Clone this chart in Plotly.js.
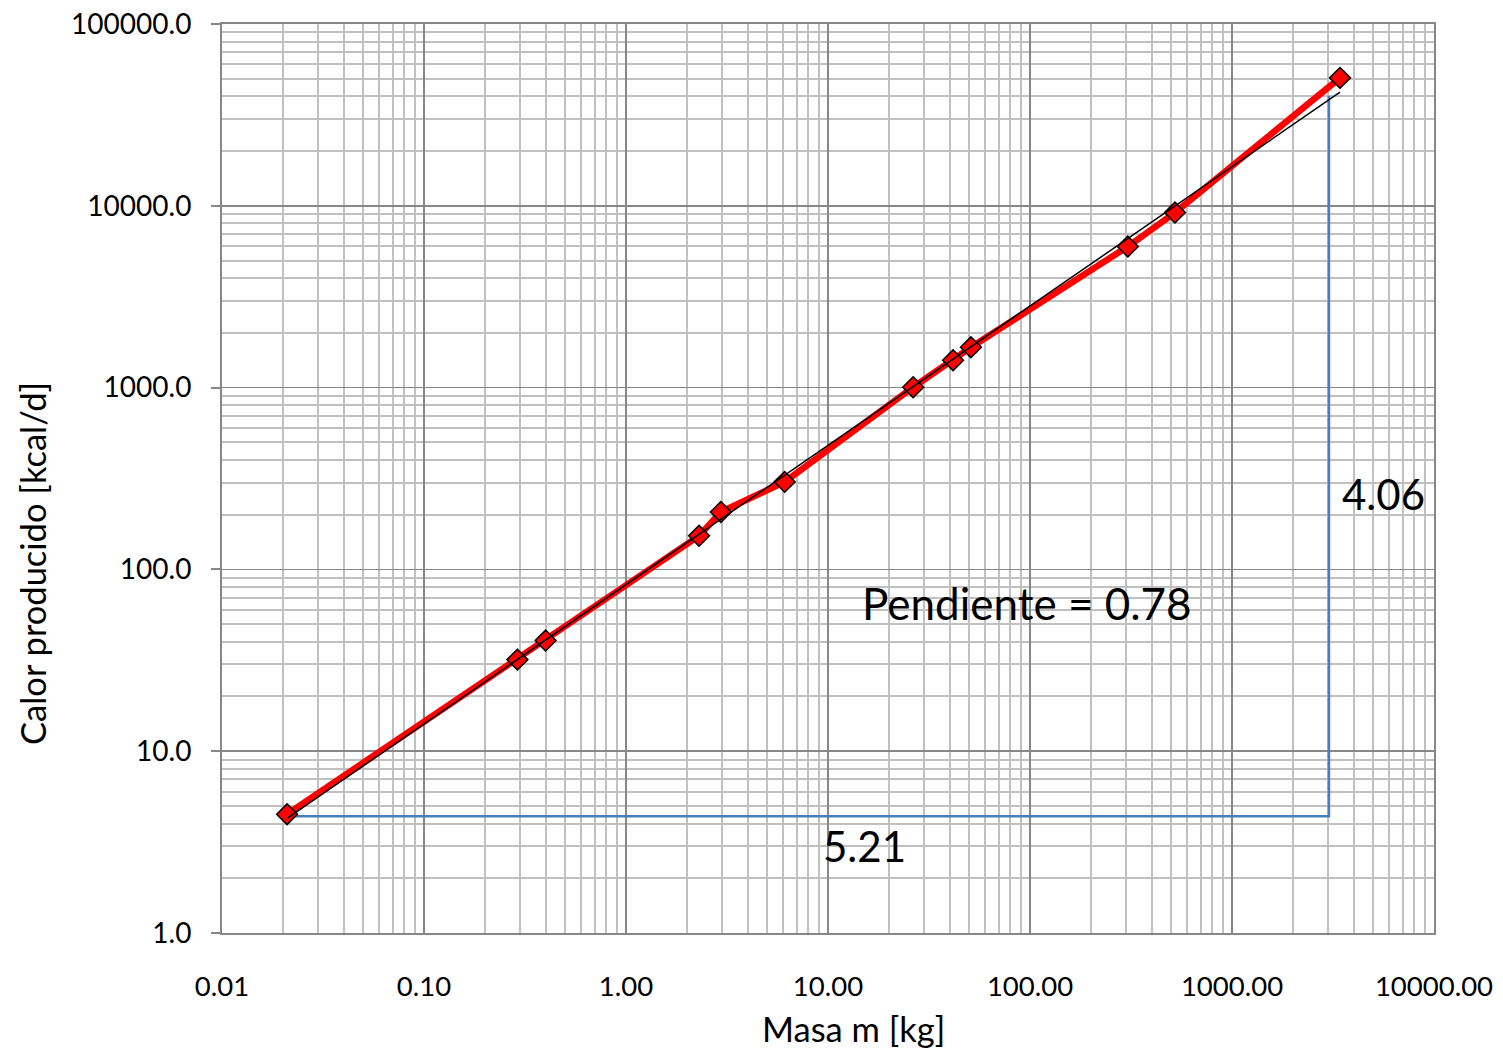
<!DOCTYPE html>
<html>
<head>
<meta charset="utf-8">
<script src="https://cdn.plot.ly/plotly-3.0.1.min.js"></script>
<style>html,body{margin:0;padding:0;background:#fff;}#chart{width:1503px;height:1051px;}</style>
</head>
<body>
<div id="chart"></div>
<script>
// Data
var masa = [0.021, 0.29, 0.40, 2.3, 2.95, 6.1, 26.4, 41.6, 51, 305, 522, 3425];
var calor = [4.5, 31.9, 40.6, 153, 207, 303, 1005, 1414, 1667, 5970, 9180, 50550];

// Slope construction (blue lines)
var slopeX = [0.021, 3020, 3020];
var slopeY = [4.39, 4.39, 40270];

// Tick labels
var xTickVals = [0.01, 0.1, 1, 10, 100, 1000, 10000];
var xTickText = ["0.01", "0.10", "1.00", "10.00", "100.00", "1000.00", "10000.00"];
var yTickVals = [1, 10, 100, 1000, 10000, 100000];
var yTickText = ["1.0", "10.0", "100.0", "1000.0", "10000.0", "100000.0"];

// Annotation texts
var labelSlope = "Pendiente = 0.78";
var labelRise = "4.06";
var labelRun = "5.21";

// Power-law least-squares fit in log space (trendline)
var lx = masa.map(function(v){return Math.log10(v);});
var ly = calor.map(function(v){return Math.log10(v);});
var n = lx.length, mx = 0, my = 0;
for (var i = 0; i < n; i++) { mx += lx[i]; my += ly[i]; }
mx /= n; my /= n;
var sxy = 0, sxx = 0;
for (var i = 0; i < n; i++) { sxy += (lx[i]-mx)*(ly[i]-my); sxx += (lx[i]-mx)*(lx[i]-mx); }
var b = sxy / sxx, a = my - b*mx;
var trendX = [masa[0], masa[n-1]];
var trendY = trendX.map(function(v){return Math.pow(10, a + b*Math.log10(v));});

function minorVals(lo, hi) {
  var out = [];
  for (var e = lo; e < hi; e++) for (var d = 2; d <= 9; d++) out.push(d*Math.pow(10, e));
  return out;
}

var FONT = "Lato, 'Open Sans', sans-serif";

var traces = [
  {x: slopeX, y: slopeY, mode: 'lines', line: {color: '#4a7ebb', width: 2.5}, hoverinfo: 'skip', showlegend: false},
  {x: masa, y: calor, mode: 'lines+markers', line: {color: '#ff0000', width: 6.5},
   marker: {symbol: 'diamond', size: 16, color: '#ff0000', line: {color: '#000000', width: 1.5}}, showlegend: false},
  {x: trendX, y: trendY, mode: 'lines', line: {color: '#000000', width: 1.5}, hoverinfo: 'skip', showlegend: false}
];

var layout = {
  width: 1503, height: 1051,
  margin: {l: 222, r: 69, t: 24, b: 118},
  paper_bgcolor: '#ffffff', plot_bgcolor: '#ffffff',
  font: {family: FONT, color: '#000000'},
  showlegend: false,
  xaxis: {
    type: 'log', range: [-2, 4],
    tickmode: 'array', tickvals: xTickVals, ticktext: xTickText,
    tickfont: {size: 27.5, family: FONT}, ticks: '', ticklabelstandoff: 28,
    showgrid: true, gridcolor: '#878787', gridwidth: 1.5,
    showline: true, linecolor: '#878787', linewidth: 2, mirror: true,
    zeroline: false,
    minor: {tickmode: 'array', tickvals: minorVals(-2, 4), showgrid: true, gridcolor: '#c0c0c0', gridwidth: 2, ticks: ''},
    title: {text: ''}
  },
  yaxis: {
    type: 'log', range: [0, 5],
    tickmode: 'array', tickvals: yTickVals, ticktext: yTickText,
    tickfont: {size: 28, family: FONT}, ticks: 'outside', ticklen: 9, tickcolor: '#878787', tickwidth: 2,
    ticklabelstandoff: 14,
    showgrid: true, gridcolor: '#878787', gridwidth: 1.5,
    showline: true, linecolor: '#878787', linewidth: 2, mirror: true,
    zeroline: false,
    minor: {tickmode: 'array', tickvals: minorVals(0, 5), showgrid: true, gridcolor: '#c0c0c0', gridwidth: 2, ticks: ''},
    title: {text: ''}
  },
  annotations: [
    {xref: 'paper', yref: 'paper', x: (853-222)/1212, y: (933-1028)/909, text: 'Masa m [kg]', showarrow: false,
     font: {size: 34.5, family: FONT}, xanchor: 'center', yanchor: 'middle'},
    {xref: 'paper', yref: 'paper', x: (32-222)/1212, y: (933-564)/909, text: 'Calor producido [kcal/d]', showarrow: false,
     textangle: -90, font: {size: 34.5, family: FONT}, xanchor: 'center', yanchor: 'middle'},
    {xref: 'paper', yref: 'paper', x: (1027-222)/1212, y: (933-603)/909, text: labelSlope, showarrow: false,
     font: {size: 44, family: FONT}, xanchor: 'center', yanchor: 'middle'},
    {xref: 'paper', yref: 'paper', x: (1383-222)/1212, y: (933-494)/909, text: labelRise, showarrow: false,
     font: {size: 42, family: FONT}, xanchor: 'center', yanchor: 'middle'},
    {xref: 'paper', yref: 'paper', x: (864-222)/1212, y: (933-846)/909, text: labelRun, showarrow: false,
     font: {size: 42, family: FONT}, xanchor: 'center', yanchor: 'middle'}
  ]
};

Plotly.newPlot('chart', traces, layout, {displayModeBar: false, staticPlot: true});
</script>
</body>
</html>
